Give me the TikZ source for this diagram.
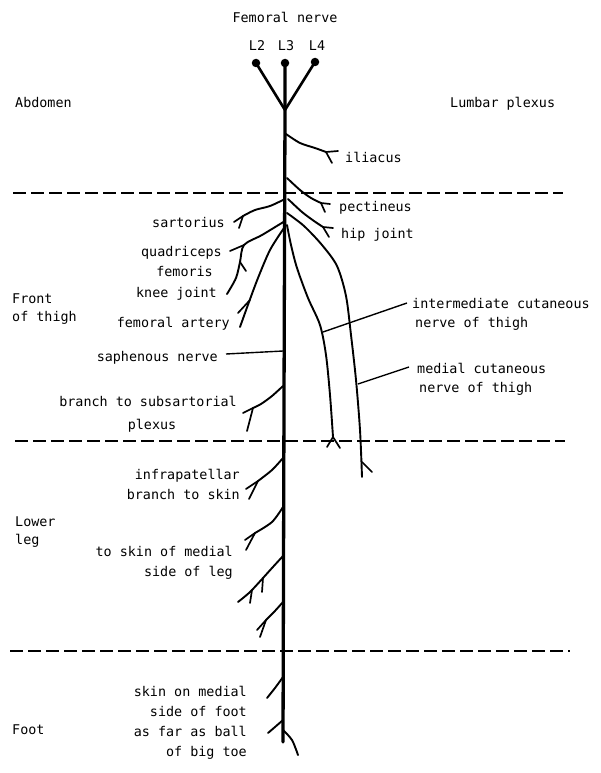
\documentclass[tikz,border=0pt]{standalone}
\usepackage{fontspec}
\setmonofont{DejaVu Sans Mono}
\begin{document}
\begin{tikzpicture}[x=1pt,y=-1pt,
  lbl/.style={font=\ttfamily\fontsize{13.4}{20}\selectfont, inner sep=0pt},
  trunk/.style={line width=3.3pt, line cap=round},
  nerve/.style={line width=1.9pt, line cap=round, line join=round},
  root line/.style={line width=2.6pt, line cap=round},
  twig/.style={line width=1.7pt, line cap=round},
  leader/.style={line width=1.4pt},
  sep/.style={line width=1.4pt, dash pattern=on 13pt off 5pt},
  root/.style={circle, fill=black, inner sep=0pt, minimum size=8.5pt}]
\useasboundingbox (0,0) rectangle (600,773);
\fill[white] (0,0) rectangle (600,773);

% region separators
\draw[sep] (13,193) -- (563,193);
\draw[sep] (15,441) -- (565,441);
\draw[sep] (10,651) -- (570,651);

% roots
\node[root] (L2dot) at (256,63) {};
\node[root] (L3dot) at (285,63) {};
\node[root] (L4dot) at (315,62) {};
\coordinate (join) at (285,110);
\coordinate (mid) at (284,400);
\coordinate (bot) at (283,742);
\draw[root line] (L2dot.center) -- (join);
\draw[root line] (L4dot.center) -- (join);
\draw[trunk] (L3dot.center) -- (join) -- (mid) -- (bot);

% labels top
\node[lbl, anchor=base] (fem) at (285,23) {Femoral nerve};
\node[lbl, anchor=base] (L2) at (257,51) {L2};
\node[lbl, anchor=base] (L3) at (286,51) {L3};
\node[lbl, anchor=base] (L4) at (317,51) {L4};
\node[lbl, anchor=base west] (abd) at (15,107) {Abdomen};
\node[lbl, anchor=base west] (lum) at (450,107) {Lumbar plexus};

% region labels
\node[lbl, anchor=base west] (front1) at (12,303) {Front};
\node[lbl, anchor=base west] (front2) at (12,321) {of thigh};
\node[lbl, anchor=base west] (lower1) at (15,526) {Lower};
\node[lbl, anchor=base west] (lower2) at (15,544) {leg};
\node[lbl, anchor=base west] (foot) at (12,734) {Foot};

% right labels
\node[lbl, anchor=base west] (ili) at (345,162) {iliacus};
\node[lbl, anchor=base west] (pec) at (339,211) {pectineus};
\node[lbl, anchor=base west] (hip) at (341,238) {hip joint};
\node[lbl, anchor=base west] (int1) at (412,308) {intermediate cutaneous};
\node[lbl, anchor=base west] (int2) at (415,327) {nerve of thigh};
\node[lbl, anchor=base west] (med1) at (417,373) {medial cutaneous};
\node[lbl, anchor=base west] (med2) at (419,392) {nerve of thigh};

% left labels
\node[lbl, anchor=base east] (sar) at (225,227) {sartorius};
\node[lbl, anchor=base east] (quad1) at (222,256) {quadriceps};
\node[lbl, anchor=base east] (quad2) at (213,276) {femoris};
\node[lbl, anchor=base east] (knee) at (217,297) {knee joint};
\node[lbl, anchor=base east] (art) at (230,327) {femoral artery};
\node[lbl, anchor=base east] (saph) at (218,361) {saphenous nerve};
\node[lbl, anchor=base east] (sub1) at (237,406) {branch to subsartorial};
\node[lbl, anchor=base] (sub2) at (152,429) {plexus};
\node[lbl, anchor=base east] (inf1) at (240,479) {infrapatellar};
\node[lbl, anchor=base east] (inf2) at (240,499) {branch to skin};
\node[lbl, anchor=base east] (leg1) at (233,556) {to skin of medial};
\node[lbl, anchor=base east] (leg2) at (233,576) {side of leg};
\node[lbl, anchor=base east] (ft1) at (247,696) {skin on medial};
\node[lbl, anchor=base east] (ft2) at (247,716) {side of foot};
\node[lbl, anchor=base east] (ft3) at (247,736) {as far as ball};
\node[lbl, anchor=base east] (ft4) at (247,756) {of big toe};

% right branches
\draw[nerve] plot[smooth] coordinates {(286,134) (300,143) (315,148) (326,152)};
\draw[twig] (326,152) -- (338,151);
\draw[twig] (326,152) -- (332,163);
\draw[nerve] plot[smooth] coordinates {(287,178) (300,190) (311,198) (321,203)};
\draw[twig] (321,203) -- (330,204);
\draw[twig] (321,203) -- (325,212);
\draw[nerve] plot[smooth] coordinates {(288,199) (302,212) (314,221) (323,227)};
\draw[twig] (323,227) -- (333,228);
\draw[twig] (323,227) -- (329,237);

% cutaneous nerves of thigh
\draw[nerve] plot[smooth] coordinates {(287,225) (291,245) (297,268) (308,298) (320,325) (326,355) (330,395) (333,437)};
\draw[twig] (333,437) -- (327,447);
\draw[twig] (333,437) -- (340,448);
\draw[nerve] plot[smooth] coordinates {(287,213) (304,226) (322,245) (337,266) (346,296) (351,335) (356,380) (360,430) (362,477)};
\draw[twig] (362,462) -- (372,472);

% left branches in thigh
\draw[nerve] plot[smooth] coordinates {(285,199) (270,206) (255,210) (243,216)};
\draw[twig] (243,216) -- (234,222);
\draw[twig] (243,216) -- (239,228);
\draw[nerve] plot[smooth] coordinates {(285,221) (262,235) (244,245) (240,262) (236,278) (227,294)};
\draw[twig] (244,245) -- (230,251);
\draw[twig] (240,262) -- (246,271);
\draw[nerve] plot[smooth] coordinates {(284,228) (270,250) (258,278) (249,302) (240,327)};
\draw[twig] (250,300) -- (238,313);
\draw[nerve] plot[smooth] coordinates {(283,386) (272,396) (261,404) (253,408)};
\draw[twig] (253,408) -- (243,413);
\draw[twig] (253,408) -- (247,431);

% lower leg branches
\draw[nerve] plot[smooth] coordinates {(283,458) (272,470) (258,481)};
\draw[twig] (258,481) -- (246,489);
\draw[twig] (258,481) -- (249,499);
\draw[nerve] plot[smooth] coordinates {(283,507) (272,522) (255,533)};
\draw[twig] (255,533) -- (245,540);
\draw[twig] (255,533) -- (246,550);
\draw[nerve] plot[smooth] coordinates {(283,556) (272,568) (263,578) (250,592) (238,602)};
\draw[twig] (263,578) -- (262,592);
\draw[twig] (252,590) -- (250,603);
\draw[nerve] plot[smooth] coordinates {(283,602) (274,612) (266,620)};
\draw[twig] (266,620) -- (257,630);
\draw[twig] (266,620) -- (260,637);

% foot branches
\draw[nerve] plot[smooth] coordinates {(283,677) (275,688) (267,698)};
\draw[nerve] plot[smooth] coordinates {(283,720) (275,727) (268,733)};
\draw[nerve] plot[smooth] coordinates {(283,730) (292,740) (298,755)};

% leaders
\coordinate (saphA) at (226,354);
\coordinate (saphB) at (283,351);
\draw[leader] (saphA) -- (saphB);
\coordinate (intA) at (407,303);
\coordinate (intB) at (323,332);
\draw[leader] (intA) -- (intB);
\coordinate (medA) at (409,367);
\coordinate (medB) at (358,384);
\draw[leader] (medA) -- (medB);
\end{tikzpicture}
\end{document}
